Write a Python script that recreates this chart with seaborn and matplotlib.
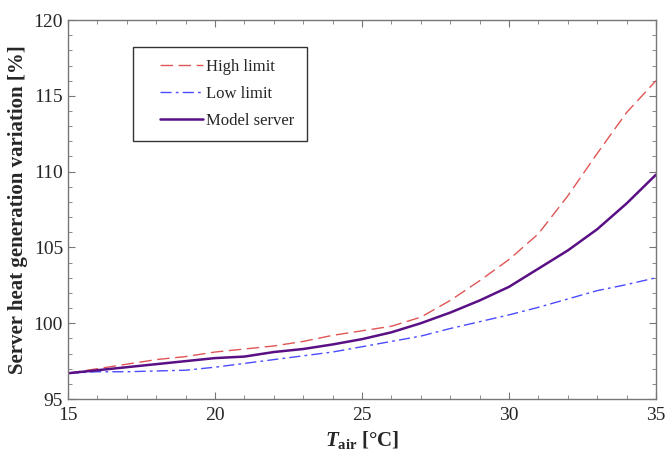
import numpy as np
import pandas as pd
import matplotlib
matplotlib.use("Agg")
import matplotlib.pyplot as plt
import seaborn as sns
from matplotlib.ticker import MultipleLocator
from matplotlib.lines import Line2D
from matplotlib.legend_handler import HandlerLine2D

t_air = list(range(15, 36))
high_limit = [96.7, 97.0, 97.3, 97.6, 97.8, 98.1, 98.3, 98.5, 98.8, 99.2, 99.5,
              99.8, 100.4, 101.5, 102.8, 104.2, 105.9, 108.4, 111.2, 113.9, 116.0]
low_limit = [96.7, 96.8, 96.8, 96.85, 96.9, 97.1, 97.35, 97.6, 97.85, 98.1, 98.45,
             98.8, 99.15, 99.65, 100.1, 100.55, 101.05, 101.6, 102.15, 102.55, 103.0]
model_server = [96.7, 96.9, 97.1, 97.3, 97.5, 97.7, 97.8, 98.1, 98.3, 98.6, 98.95,
                99.4, 100.0, 100.7, 101.5, 102.4, 103.6, 104.8, 106.2, 107.9, 109.8]

data = pd.DataFrame({"T": t_air, "High limit": high_limit,
                     "Low limit": low_limit, "Model server": model_server})

sns.set_style("ticks")
plt.rcParams["font.family"] = ["Liberation Serif", "DejaVu Serif"]
plt.rcParams["mathtext.fontset"] = "custom"
plt.rcParams["mathtext.rm"] = "Liberation Serif"
plt.rcParams["mathtext.it"] = "Liberation Serif:italic"
plt.rcParams["mathtext.bf"] = "Liberation Serif:bold"
plt.rcParams["mathtext.bfit"] = "Liberation Serif:italic:bold"

fig = plt.figure(figsize=(6.66, 4.55), dpi=100)
ax = fig.add_axes([0.102, 0.123, 0.883, 0.833])

sns.lineplot(data=data, x="T", y="High limit", ax=ax, color="#e05555",
             lw=1.0, label="High limit")
ax.lines[-1].set_dashes([9, 4])
sns.lineplot(data=data, x="T", y="Low limit", ax=ax, color="#4b4bff",
             lw=1.0, label="Low limit")
ax.lines[-1].set_dashes([8, 3, 2, 3])
sns.lineplot(data=data, x="T", y="Model server", ax=ax, color="#5a1085",
             lw=1.8, label="Model server")

ax.set_xlim(15, 35)
ax.set_ylim(95, 120)
ax.xaxis.set_major_locator(MultipleLocator(5))
ax.xaxis.set_minor_locator(MultipleLocator(1))
ax.yaxis.set_major_locator(MultipleLocator(5))
ax.yaxis.set_minor_locator(MultipleLocator(1))
ax.tick_params(which="both", direction="in", top=True, right=True, color="#777777")
ax.tick_params(which="major", length=5, width=0.8, labelsize=14)
ax.tick_params(axis="x", which="major", pad=6)
ax.tick_params(which="minor", length=3, width=0.6)
for s in ax.spines.values():
    s.set_color("#777777")
    s.set_linewidth(1.0)

ax.set_xlabel(r"$\mathbfit{T}_{\mathbf{air}}$ [°C]", fontsize=15, fontweight="bold",
              labelpad=3)
ax.set_ylabel("Server heat generation variation [%]", fontsize=15, fontweight="bold")

# handle starts a bit further in from the frame, like the original
leg = ax.legend(loc="upper left", bbox_to_anchor=(0.11, 0.930), fontsize=12,
                frameon=True, fancybox=False, edgecolor="black",
                handlelength=3.45, handletextpad=0.2, borderpad=0.75,
                labelspacing=0.65, borderaxespad=0,
                handler_map={Line2D: HandlerLine2D(xpad=0.87)})
leg.get_frame().set_linewidth(1.0)

fig.savefig("out.png", dpi=100)
